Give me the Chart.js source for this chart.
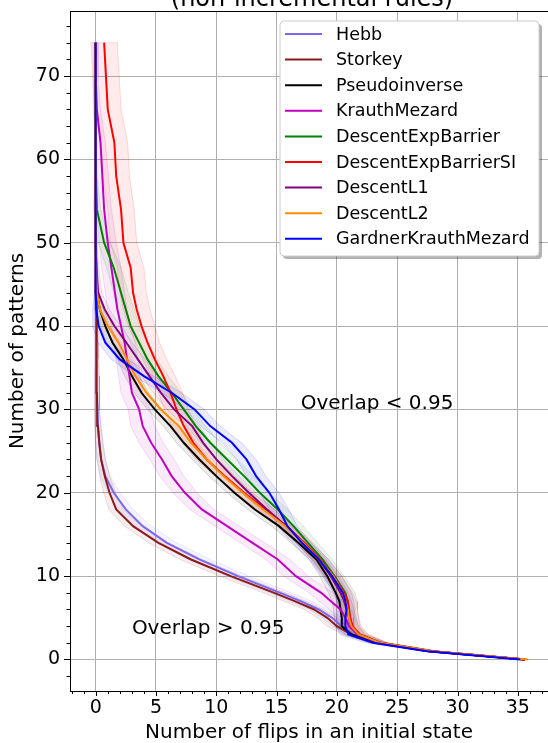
<!DOCTYPE html>
<html>
<head>
<meta charset="utf-8">
<script src="https://cdn.jsdelivr.net/npm/chart.js@4/dist/chart.umd.min.js"></script>
<style>
  html, body { margin: 0; padding: 0; background: #fff; overflow: hidden; }
  canvas { display: block; }
</style>
</head>
<body>
<canvas id="chart" width="548" height="743"></canvas>
<script>
// number of patterns (y axis)
const patternCounts = [0, 1, 2, 3, 4, 5, 6, 7, 8, 10, 12, 14, 16, 18, 20, 22, 24, 26, 28, 30, 32, 34, 36, 38, 40, 42, 44, 47, 50, 54, 58, 62, 66, 70, 74];

// mean number of flips (x axis), one array per rule
const hebb = [35.6, 27.6, 23.4, 21.4, 20.4, 19.6, 18.5, 17.0, 15.3, 11.8, 8.6, 5.9, 3.9, 2.5, 1.5, 0.8, 0.45, 0.3, 0.2, 0.15, 0.1, 0.08, 0.05, 0.04, 0.03, 0.02, 0.01, 0, 0, 0, 0, 0, 0, 0, 0];
const storkey = [35.6, 27.6, 23.3, 21.2, 20.0, 19.2, 18.1, 16.5, 14.8, 11.2, 7.9, 5.2, 3.1, 1.7, 1.15, 0.75, 0.45, 0.3, 0.18, 0.12, 0.1, 0.1, 0.1, 0.08, 0.06, 0.03, 0.02, 0, 0, 0, 0, 0, 0, 0, 0];
const pseudoinverse = [35.6, 27.7, 23.3, 21.2, 20.4, 20.4, 20.3, 20.2, 19.9, 19.2, 18.3, 16.8, 15.2, 13.2, 11.5, 10.0, 8.6, 7.3, 6.2, 4.9, 3.8, 3.0, 2.3, 1.4, 0.8, 0.35, 0.1, 0.05, 0, 0, 0, 0, 0, 0, 0];
const krauthMezard = [35.6, 27.8, 23.5, 21.7, 21.0, 20.7, 20.3, 19.5, 18.7, 16.6, 15.1, 13.0, 10.9, 8.8, 7.4, 6.3, 5.5, 4.6, 3.9, 3.6, 3.0, 2.8, 2.6, 2.4, 2.1, 1.8, 1.6, 1.3, 1.0, 0.7, 0.55, 0.4, 0.1, 0, 0];
const descentExpBarrier = [35.6, 27.9, 23.6, 21.9, 21.2, 21.1, 21.0, 20.9, 20.7, 19.8, 18.8, 17.6, 16.4, 15.1, 13.6, 12.3, 10.9, 9.5, 8.3, 7.3, 6.3, 5.2, 4.3, 3.6, 2.9, 2.5, 2.1, 1.5, 0.7, 0.1, 0.02, 0, 0, 0, 0];
const descentExpBarrierSI = [35.6, 27.9, 23.6, 21.9, 21.3, 21.1, 21.0, 20.9, 20.6, 19.7, 18.6, 17.3, 15.8, 14.1, 12.3, 10.7, 9.2, 8.1, 7.3, 6.7, 6.2, 5.6, 4.9, 4.3, 3.8, 3.4, 3.1, 2.9, 2.3, 2.1, 1.7, 1.55, 1.0, 0.85, 0.7];
const descentL1 = [35.6, 27.9, 23.6, 21.8, 21.2, 21.0, 20.8, 20.6, 20.3, 19.5, 18.5, 17.2, 15.8, 14.2, 12.7, 11.3, 10.0, 8.9, 8.0, 6.5, 5.4, 4.45, 3.5, 2.55, 1.55, 0.75, 0.2, 0.05, 0, 0, 0, 0, 0, 0, 0];
const descentL2 = [35.8, 28.0, 23.6, 21.8, 21.2, 21.0, 20.9, 20.7, 20.5, 19.7, 18.5, 17.2, 15.7, 13.9, 12.2, 10.6, 9.2, 7.9, 6.9, 5.4, 4.2, 3.3, 2.6, 1.9, 1.0, 0.35, 0.1, 0.02, 0, 0, 0, 0, 0, 0, 0];
const gardnerKrauthMezard = [35.2, 27.5, 23.0, 20.95, 20.7, 20.7, 20.8, 20.7, 20.5, 19.6, 18.5, 17.1, 15.9, 15.2, 14.4, 13.3, 12.5, 11.3, 9.5, 8.2, 6.3, 4.0, 2.0, 0.8, 0.25, 0.05, 0, 0, 0, 0, 0, 0, 0, 0, 0];

// spread of the shaded band around each mean
const hebbSpread = [0.2, 0.5, 0.6, 0.7, 0.8, 0.8, 0.8, 0.9, 0.9, 0.9, 0.9, 0.8, 0.7, 0.6, 0.5, 0.4, 0.35, 0.3, 0.25, 0.2, 0.2, 0.2, 0.15, 0.15, 0.1, 0.1, 0.1, 0.05, 0.05, 0, 0, 0, 0, 0, 0];
const storkeySpread = [0.2, 0.5, 0.6, 0.7, 0.8, 0.8, 0.8, 0.9, 0.9, 0.9, 0.9, 0.8, 0.7, 0.6, 0.5, 0.4, 0.35, 0.3, 0.25, 0.2, 0.2, 0.2, 0.15, 0.15, 0.1, 0.1, 0.1, 0.05, 0.05, 0, 0, 0, 0, 0, 0];
const pseudoinverseSpread = [0.2, 0.4, 0.5, 0.5, 0.6, 0.6, 0.6, 0.6, 0.6, 0.6, 0.6, 0.6, 0.6, 0.6, 0.6, 0.6, 0.6, 0.6, 0.6, 0.6, 0.6, 0.6, 0.5, 0.5, 0.4, 0.3, 0.2, 0.1, 0.1, 0, 0, 0, 0, 0, 0];
const krauthMezardSpread = [0.2, 0.5, 0.6, 0.7, 0.8, 0.8, 0.9, 1.0, 1.0, 1.0, 1.0, 1.0, 1.0, 1.0, 1.0, 1.0, 1.0, 1.0, 1.0, 0.9, 0.9, 0.9, 0.9, 0.9, 0.8, 0.8, 0.8, 0.8, 0.7, 0.6, 0.5, 0.4, 0.3, 0.2, 0.2];
const descentExpBarrierSpread = [0.2, 0.5, 0.6, 0.7, 0.7, 0.7, 0.7, 0.8, 0.8, 0.8, 0.8, 0.8, 0.8, 0.8, 0.8, 0.8, 0.8, 0.8, 0.8, 0.8, 0.8, 0.8, 0.8, 0.7, 0.7, 0.7, 0.6, 0.6, 0.5, 0.3, 0.1, 0, 0, 0, 0];
const descentExpBarrierSISpread = [0.2, 0.5, 0.6, 0.7, 0.7, 0.7, 0.7, 0.7, 0.7, 0.7, 0.7, 0.7, 0.7, 0.7, 0.7, 0.8, 0.9, 0.9, 1.0, 1.0, 1.0, 1.0, 1.0, 1.0, 1.1, 1.1, 1.1, 1.1, 1.1, 1.1, 1.1, 1.1, 1.1, 1.1, 1.1];
const descentL1Spread = [0.2, 0.4, 0.5, 0.5, 0.6, 0.6, 0.6, 0.6, 0.6, 0.6, 0.6, 0.6, 0.6, 0.6, 0.6, 0.6, 0.6, 0.6, 0.6, 0.6, 0.6, 0.6, 0.6, 0.5, 0.5, 0.4, 0.3, 0.2, 0.1, 0, 0, 0, 0, 0, 0];
const descentL2Spread = [0.2, 0.4, 0.5, 0.5, 0.5, 0.5, 0.5, 0.5, 0.5, 0.5, 0.5, 0.5, 0.5, 0.5, 0.5, 0.5, 0.5, 0.5, 0.5, 0.5, 0.5, 0.5, 0.5, 0.5, 0.4, 0.3, 0.2, 0.1, 0.05, 0, 0, 0, 0, 0, 0];
const gardnerKrauthMezardSpread = [0.2, 0.5, 0.6, 0.7, 0.7, 0.7, 0.7, 0.7, 0.7, 0.8, 0.8, 0.8, 0.8, 0.8, 0.8, 0.8, 0.8, 0.8, 0.8, 0.8, 0.8, 0.8, 0.7, 0.6, 0.5, 0.3, 0.1, 0, 0, 0, 0, 0, 0, 0, 0];

const ruleNames = ['Hebb', 'Storkey', 'Pseudoinverse', 'KrauthMezard', 'DescentExpBarrier', 'DescentExpBarrierSI', 'DescentL1', 'DescentL2', 'GardnerKrauthMezard'];
const ruleMeans = [hebb, storkey, pseudoinverse, krauthMezard, descentExpBarrier, descentExpBarrierSI, descentL1, descentL2, gardnerKrauthMezard];
const ruleSpreads = [hebbSpread, storkeySpread, pseudoinverseSpread, krauthMezardSpread, descentExpBarrierSpread, descentExpBarrierSISpread, descentL1Spread, descentL2Spread, gardnerKrauthMezardSpread];
const ruleColors = ['#7b68ee', '#8b1a1a', '#000000', '#bf00bf', '#008000', '#ff0000', '#800080', '#ff8c00', '#0000ff'];

const xTicks = [0, 5, 10, 15, 20, 25, 30, 35];
const yTicks = [0, 10, 20, 30, 40, 50, 60, 70];

const FONT = 'DejaVu Sans';

function rgba(hex, a) {
  const n = parseInt(hex.slice(1), 16);
  return `rgba(${(n >> 16) & 255},${(n >> 8) & 255},${n & 255},${a})`;
}

// --- datasets: shaded band (closed shape) + mean line per rule ---
const datasets = [];
ruleNames.forEach((name, i) => {
  const mean = ruleMeans[i];
  const sd = ruleSpreads[i];
  const lower = patternCounts.map((y, k) => ({ x: mean[k] - sd[k], y }));
  const upper = patternCounts.map((y, k) => ({ x: mean[k] + sd[k], y })).reverse();
  datasets.push({
    label: name + ' band',
    isBand: true,
    data: lower.concat(upper, [lower[0]]),
    showLine: true,
    fill: 'shape',
    backgroundColor: rgba(ruleColors[i], 0.08),
    borderColor: rgba(ruleColors[i], 0.14),
    borderWidth: 1,
    pointRadius: 0,
    order: 100 - i
  });
  datasets.push({
    label: name,
    data: patternCounts.map((y, k) => ({ x: mean[k], y })),
    showLine: true,
    fill: false,
    borderColor: ruleColors[i],
    backgroundColor: ruleColors[i],
    borderWidth: 2,
    pointRadius: 0,
    order: 20 - i
  });
});

// --- extra drawing: frame, tick marks, notes, legend, title ---
const decorations = {
  id: 'decorations',
  afterDraw(chart) {
    const { ctx, chartArea: a, scales: { x, y } } = chart;
    ctx.save();
    ctx.strokeStyle = '#000';
    ctx.lineWidth = 1;
    ctx.beginPath();
    ctx.moveTo(a.left, a.top + 0.5);
    ctx.lineTo(a.right, a.top + 0.5);
    ctx.stroke();

    ctx.beginPath();
    for (let v = -2; v <= 37; v++) {
      const px = Math.round(x.getPixelForValue(v)) + 0.5;
      const len = v % 5 === 0 ? 5 : 3;
      ctx.moveTo(px, a.bottom);
      ctx.lineTo(px, a.bottom + len);
    }
    for (let v = -2; v <= 76; v += 2) {
      const py = Math.round(y.getPixelForValue(v)) + 0.5;
      const len = v % 10 === 0 ? 6 : 3.5;
      ctx.moveTo(a.left, py);
      ctx.lineTo(a.left - len, py);
    }
    ctx.stroke();

    ctx.fillStyle = '#000';
    ctx.font = `20px "${FONT}"`;
    ctx.textBaseline = 'alphabetic';
    ctx.textAlign = 'left';
    ctx.fillText('Overlap < 0.95', x.getPixelForValue(17), y.getPixelForValue(30));
    ctx.fillText('Overlap > 0.95', x.getPixelForValue(3), y.getPixelForValue(3));

    ctx.font = `24px "${FONT}"`;
    ctx.textAlign = 'center';
    ctx.fillText('(non-incremental rules)', 312, 6);

    // legend
    const bx = 280, by = 21, bw = 259, bh = 235, r = 4;
    const box = (ox, oy) => {
      ctx.beginPath();
      ctx.roundRect(bx + ox, by + oy, bw, bh, r);
    };
    ctx.fillStyle = 'rgba(0,0,0,0.3)';
    box(3, 3);
    ctx.fill();
    ctx.fillStyle = '#fff';
    ctx.strokeStyle = '#cccccc';
    box(0, 0);
    ctx.fill();
    ctx.stroke();

    ctx.font = `17.5px "${FONT}"`;
    ctx.textAlign = 'left';
    ctx.textBaseline = 'middle';
    chart.data.datasets.filter(d => !d.isBand).forEach((d, i) => {
      const ly = 34 + i * 25.6;
      ctx.strokeStyle = d.borderColor;
      ctx.lineWidth = 2;
      ctx.beginPath();
      ctx.moveTo(285, ly);
      ctx.lineTo(322, ly);
      ctx.stroke();
      ctx.fillStyle = '#000';
      ctx.fillText(d.label, 336, ly + 1);
    });
    ctx.restore();
  }
};

new Chart(document.getElementById('chart').getContext('2d'), {
  type: 'scatter',
  data: { datasets },
  options: {
    responsive: false,
    animation: false,
    devicePixelRatio: 1,
    layout: { padding: { top: 11, right: 0, left: 0, bottom: 0 } },
    plugins: {
      legend: { display: false },
      tooltip: { enabled: false }
    },
    elements: { line: { tension: 0 } },
    scales: {
      x: {
        type: 'linear',
        min: -2.13,
        max: 37.5,
        afterBuildTicks: s => { s.ticks = xTicks.map(v => ({ value: v })); },
        afterFit: s => { s.height = 52; s.paddingLeft = 0; s.paddingRight = 0; },
        grid: { color: '#b0b0b0', lineWidth: 1, drawTicks: false },
        border: { color: '#000', width: 1 },
        ticks: { color: '#000', font: { family: FONT, size: 19 }, padding: 6, maxRotation: 0 },
        title: { display: true, text: 'Number of flips in an initial state', color: '#000', font: { family: FONT, size: 20 }, padding: { top: 0, bottom: -2 } }
      },
      y: {
        type: 'linear',
        min: -3.78,
        max: 77.8,
        afterBuildTicks: s => { s.ticks = yTicks.map(v => ({ value: v })); },
        afterFit: s => { s.width = 70; s.paddingTop = 0; s.paddingBottom = 0; },
        grid: { color: '#b0b0b0', lineWidth: 1, drawTicks: false },
        border: { color: '#000', width: 1 },
        ticks: { color: '#000', font: { family: FONT, size: 19 }, padding: 10 },
        title: { display: true, text: 'Number of patterns', color: '#000', font: { family: FONT, size: 20 }, padding: { top: 6, bottom: 0 } }
      }
    }
  },
  plugins: [decorations]
});
</script>
</body>
</html>
